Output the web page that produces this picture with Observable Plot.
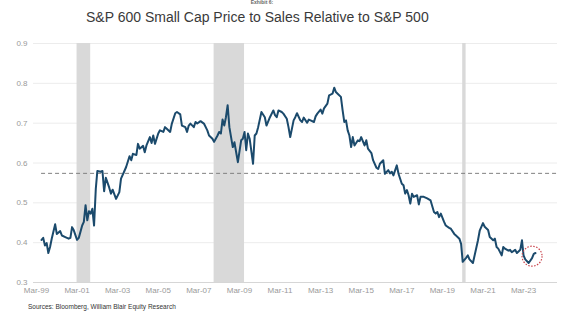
<!DOCTYPE html>
<html><head><meta charset="utf-8">
<script src="https://cdn.jsdelivr.net/npm/d3@7"></script>
<script src="https://cdn.jsdelivr.net/npm/@observablehq/plot@0.6"></script>
<style>
body{margin:0;background:#fff;width:569px;height:311px;overflow:hidden;position:relative;font-family:"Liberation Sans",Arial,sans-serif;}
#exhibit{position:absolute;top:0px;left:0;width:524px;text-align:center;font-size:5px;line-height:5px;font-weight:bold;color:#666;}
#title{position:absolute;top:9px;left:86px;white-space:nowrap;font-size:14px;line-height:17px;color:#3a3a3a;}
#chart{position:absolute;top:30px;left:0;}
#source{position:absolute;left:28px;top:303px;font-size:6.5px;line-height:8px;color:#333;}
</style></head><body>
<div id="exhibit">Exhibit 6:</div>
<div id="title">S&amp;P 600 Small Cap Price to Sales Relative to S&amp;P 500</div>
<div id="chart"></div>
<div id="source">Sources: Bloomberg, William Blair Equity Research</div>
<script>
const dates = ["1999-06","1999-07","1999-08","1999-09","1999-10","1999-11","1999-12","2000-02","2000-03","2000-05","2000-06","2000-08","2000-10","2000-11","2000-12","2001-01","2001-03","2001-04","2001-06","2001-07","2001-08","2001-09","2001-10","2001-11","2001-12","2002-01","2002-02","2002-03","2002-05","2002-06","2002-07","2002-08","2002-10","2002-11","2002-12","2003-02","2003-04","2003-05","2003-07","2003-08","2003-10","2003-11","2003-12","2004-02","2004-03","2004-04","2004-06","2004-07","2004-08","2004-10","2004-11","2004-12","2005-01","2005-03","2005-04","2005-06","2005-07","2005-08","2005-10","2005-11","2006-01","2006-02","2006-04","2006-05","2006-07","2006-08","2006-09","2006-10","2006-12","2007-01","2007-02","2007-04","2007-06","2007-08","2007-09","2007-11","2007-12","2008-02","2008-03","2008-04","2008-05","2008-06","2008-07","2008-08","2008-09","2008-11","2008-12","2009-01","2009-02","2009-04","2009-05","2009-06","2009-07","2009-08","2009-09","2009-11","2009-12","2010-01","2010-02","2010-04","2010-06","2010-07","2010-09","2010-11","2010-12","2011-01","2011-02","2011-04","2011-05","2011-07","2011-08","2011-09","2011-11","2011-12","2012-01","2012-03","2012-04","2012-05","2012-07","2012-08","2012-09","2012-11","2012-12","2013-01","2013-03","2013-04","2013-05","2013-07","2013-08","2013-10","2013-11","2013-12","2014-01","2014-03","2014-04","2014-05","2014-06","2014-07","2014-08","2014-09","2014-10","2014-11","2015-01","2015-02","2015-03","2015-05","2015-06","2015-07","2015-09","2015-10","2015-12","2016-01","2016-02","2016-04","2016-05","2016-07","2016-08","2016-09","2016-10","2016-12","2017-01","2017-03","2017-04","2017-05","2017-06","2017-07","2017-08","2017-09","2017-10","2017-12","2018-01","2018-02","2018-04","2018-06","2018-08","2018-10","2018-11","2018-12","2019-01","2019-02","2019-04","2019-05","2019-07","2019-08","2019-10","2019-11","2020-01","2020-02","2020-03","2020-05","2020-06","2020-07","2020-09","2020-12","2021-01","2021-03","2021-04","2021-06","2021-07","2021-09","2021-10","2021-11","2021-12","2022-02","2022-03","2022-04","2022-06","2022-07","2022-08","2022-10","2022-11","2022-12","2023-01","2023-02","2023-03","2023-04","2023-06","2023-08","2023-09","2023-10"];
const values = [0.407,0.412,0.393,0.399,0.374,0.389,0.410,0.446,0.422,0.429,0.418,0.414,0.410,0.412,0.439,0.431,0.407,0.412,0.443,0.452,0.494,0.456,0.479,0.473,0.485,0.443,0.535,0.580,0.578,0.580,0.529,0.563,0.538,0.523,0.533,0.510,0.527,0.561,0.580,0.590,0.617,0.607,0.623,0.620,0.648,0.636,0.643,0.627,0.644,0.665,0.650,0.669,0.648,0.674,0.682,0.678,0.690,0.686,0.678,0.699,0.725,0.728,0.722,0.694,0.690,0.678,0.694,0.699,0.690,0.703,0.699,0.705,0.699,0.682,0.669,0.661,0.653,0.669,0.678,0.674,0.709,0.694,0.715,0.745,0.690,0.640,0.652,0.627,0.602,0.657,0.661,0.678,0.632,0.674,0.661,0.598,0.669,0.674,0.690,0.728,0.715,0.694,0.715,0.732,0.720,0.715,0.732,0.728,0.724,0.711,0.690,0.665,0.707,0.715,0.725,0.707,0.703,0.714,0.701,0.709,0.707,0.703,0.717,0.724,0.734,0.724,0.737,0.749,0.770,0.774,0.789,0.778,0.774,0.766,0.732,0.703,0.707,0.682,0.669,0.640,0.665,0.644,0.657,0.655,0.665,0.644,0.657,0.636,0.625,0.607,0.588,0.585,0.598,0.607,0.573,0.582,0.574,0.578,0.569,0.594,0.573,0.548,0.544,0.523,0.532,0.519,0.498,0.523,0.515,0.519,0.496,0.515,0.515,0.511,0.506,0.477,0.473,0.477,0.464,0.473,0.452,0.443,0.437,0.435,0.422,0.418,0.410,0.397,0.352,0.362,0.368,0.358,0.349,0.406,0.430,0.449,0.440,0.432,0.414,0.406,0.410,0.389,0.385,0.368,0.389,0.385,0.380,0.382,0.376,0.382,0.374,0.378,0.382,0.406,0.368,0.358,0.349,0.361,0.372,0.374];

const recessionStarts = ["2001-03","2007-12","2020-03"];
const recessionEnds   = ["2001-11","2009-06","2020-05"];

const averageValue = 0.574;
const averageStart = "1999-06";
const averageEnd = "2024-10-15";

const highlightDate = "2023-08";
const highlightValue = 0.366;

const yTicks = [0.3,0.4,0.5,0.6,0.7,0.8,0.9];
const xTickLabels = ["1999-03","2001-03","2003-03","2005-03","2007-03","2009-03","2011-03","2013-03","2015-03","2017-03","2019-03","2021-03","2023-03"];

const parse = s => new Date(s.length === 7 ? s + "-01T00:00:00Z" : s + "T00:00:00Z");
const series = dates.map((d, i) => ({date: parse(d), value: values[i]}));
const recessions = recessionStarts.map((s, i) => ({start: parse(s), end: parse(recessionEnds[i])}));
const avgLine = [{y: averageValue, x1: parse(averageStart), x2: parse(averageEnd)}];
const highlight = [{date: parse(highlightDate), value: highlightValue}];

const chart = Plot.plot({
  width: 569, height: 270,
  marginTop: 13, marginBottom: 18, marginLeft: 33, marginRight: 12,
  style: {fontFamily: "Liberation Sans, Arial, sans-serif", fontSize: "8px", color: "#9a9a9a", background: "white", overflow: "visible"},
  x: {type: "utc", domain: [parse("1999-01-07"), parse("2024-11-01")]},
  y: {domain: [0.3, 0.9]},
  marks: [
    Plot.gridY(yTicks.slice(1), {stroke: "#ececec", strokeOpacity: 1}),
    Plot.rect(recessions, {x1: "start", x2: "end", fill: "#d9d9d9"}),
    Plot.ruleY([0.3], {stroke: "#d6d6d6"}),
    Plot.ruleY(avgLine, {y: "y", x1: "x1", x2: "x2", stroke: "#808080", strokeDasharray: "4,3", strokeWidth: 1}),
    Plot.line(series, {x: "date", y: "value", stroke: "#1b4a6c", strokeWidth: 2}),
    Plot.dot(highlight, {x: "date", y: "value", r: 10, stroke: "#c8424a", strokeWidth: 1.2, strokeDasharray: "1.5,1.5", fill: "none"}),
    Plot.axisY({ticks: yTicks, tickSize: 0, tickPadding: 6, tickFormat: d3.format(".1f"), label: null}),
    Plot.axisX({ticks: xTickLabels.map(parse), tickSize: 0, tickPadding: 5, tickFormat: d3.utcFormat("%b-%y"), label: null})
  ]
});
document.getElementById("chart").append(chart);
</script>
</body></html>
